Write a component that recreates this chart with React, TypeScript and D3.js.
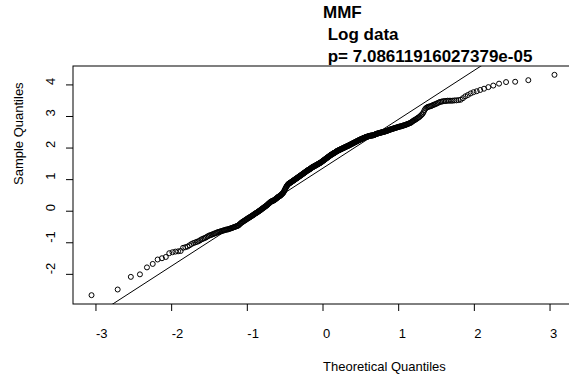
import React from "react";
import * as d3 from "d3";

const titleLines = ["MMF", " Log data", " p= 7.08611916027379e-05"];
const xLabel = "Theoretical Quantiles";
const yLabel = "Sample Quantiles";
const xTicks = [-3, -2, -1, 0, 1, 2, 3];
const yTicks = [-2, -1, 0, 1, 2, 3, 4];

// sorted sample values
const sample = [
  -2.66, -2.48, -2.08, -2.00, -1.78, -1.67, -1.53, -1.49, -1.45, -1.33,
  -1.30, -1.28, -1.27, -1.26, -1.16, -1.14, -1.12, -1.08, -1.04, -1.01,
  -0.99, -0.97, -0.95, -0.92, -0.89, -0.87, -0.85, -0.83, -0.80, -0.78,
  -0.76, -0.75, -0.73, -0.72, -0.70, -0.69, -0.67, -0.66, -0.65, -0.64,
  -0.63, -0.62, -0.61, -0.60, -0.59, -0.58, -0.58, -0.57, -0.56, -0.55,
  -0.54, -0.53, -0.52, -0.51, -0.50, -0.49, -0.48, -0.47, -0.46, -0.45,
  -0.42, -0.40, -0.38, -0.36, -0.34, -0.33, -0.31, -0.30, -0.28, -0.27,
  -0.25, -0.24, -0.22, -0.21, -0.20, -0.18, -0.17, -0.16, -0.14, -0.13,
  -0.12, -0.10, -0.09, -0.07, -0.06, -0.05, -0.04, -0.02, -0.01, 0.00,
  0.02, 0.03, 0.04, 0.06, 0.07, 0.09, 0.10, 0.11, 0.13, 0.14,
  0.15, 0.17, 0.18, 0.19, 0.21, 0.23, 0.24, 0.26, 0.27, 0.29,
  0.30, 0.31, 0.32, 0.32, 0.33, 0.34, 0.35, 0.36, 0.37, 0.38,
  0.40, 0.41, 0.42, 0.44, 0.45, 0.46, 0.47, 0.48, 0.49, 0.50,
  0.52, 0.53, 0.55, 0.56, 0.58, 0.60, 0.63, 0.66, 0.69, 0.72,
  0.75, 0.78, 0.80, 0.82, 0.84, 0.86, 0.87, 0.88, 0.89, 0.90,
  0.91, 0.92, 0.93, 0.94, 0.95, 0.96, 0.97, 0.98, 0.99, 1.00,
  1.01, 1.02, 1.03, 1.04, 1.05, 1.06, 1.07, 1.08, 1.09, 1.10,
  1.11, 1.12, 1.13, 1.14, 1.15, 1.16, 1.17, 1.18, 1.19, 1.20,
  1.21, 1.22, 1.23, 1.24, 1.25, 1.26, 1.27, 1.28, 1.29, 1.30,
  1.31, 1.31, 1.32, 1.33, 1.34, 1.35, 1.36, 1.37, 1.38, 1.39,
  1.40, 1.40, 1.41, 1.42, 1.43, 1.43, 1.44, 1.45, 1.46, 1.46,
  1.47, 1.48, 1.49, 1.49, 1.50, 1.51, 1.52, 1.53, 1.53, 1.54,
  1.55, 1.56, 1.57, 1.58, 1.59, 1.60, 1.61, 1.62, 1.63, 1.64,
  1.65, 1.66, 1.67, 1.68, 1.69, 1.70, 1.71, 1.72, 1.73, 1.74,
  1.75, 1.76, 1.77, 1.78, 1.79, 1.80, 1.80, 1.81, 1.82, 1.83,
  1.84, 1.85, 1.85, 1.86, 1.87, 1.88, 1.89, 1.90, 1.91, 1.91,
  1.92, 1.93, 1.93, 1.94, 1.95, 1.95, 1.96, 1.97, 1.97, 1.98,
  1.99, 1.99, 2.00, 2.01, 2.01, 2.02, 2.03, 2.03, 2.04, 2.05,
  2.05, 2.06, 2.07, 2.07, 2.08, 2.09, 2.09, 2.10, 2.11, 2.12,
  2.12, 2.13, 2.14, 2.15, 2.15, 2.16, 2.17, 2.18, 2.18, 2.19,
  2.20, 2.21, 2.21, 2.22, 2.23, 2.24, 2.24, 2.25, 2.26, 2.27,
  2.27, 2.28, 2.29, 2.29, 2.30, 2.31, 2.31, 2.32, 2.33, 2.33,
  2.34, 2.35, 2.35, 2.36, 2.36, 2.37, 2.37, 2.38, 2.38, 2.39,
  2.39, 2.39, 2.40, 2.40, 2.40, 2.40, 2.41, 2.41, 2.42, 2.43,
  2.44, 2.45, 2.45, 2.46, 2.46, 2.47, 2.47, 2.48, 2.48, 2.49,
  2.49, 2.50, 2.50, 2.51, 2.51, 2.52, 2.52, 2.53, 2.53, 2.54,
  2.55, 2.55, 2.56, 2.57, 2.58, 2.58, 2.59, 2.60, 2.60, 2.61,
  2.62, 2.62, 2.63, 2.64, 2.64, 2.65, 2.66, 2.66, 2.67, 2.68,
  2.68, 2.69, 2.69, 2.70, 2.71, 2.72, 2.72, 2.73, 2.74, 2.75,
  2.76, 2.77, 2.78, 2.79, 2.80, 2.82, 2.84, 2.86, 2.88, 2.89,
  2.91, 2.93, 2.95, 2.97, 2.99, 3.02, 3.05, 3.08, 3.13, 3.20,
  3.25, 3.28, 3.30, 3.31, 3.32, 3.33, 3.35, 3.37, 3.38, 3.40,
  3.42, 3.44, 3.46, 3.47, 3.48, 3.49, 3.49, 3.50, 3.50, 3.50,
  3.50, 3.51, 3.51, 3.52, 3.53, 3.58, 3.64, 3.68, 3.73, 3.77,
  3.80, 3.84, 3.88, 3.93, 3.98, 4.04, 4.09, 4.10, 4.15, 4.32,
];

// inverse standard normal CDF (Acklam)
function qnorm(p: number): number {
  const a = [-3.969683028665376e1, 2.209460984245205e2, -2.759285104469687e2, 1.38357751867269e2, -3.066479806614716e1, 2.506628277459239];
  const b = [-5.447609879822406e1, 1.615858368580409e2, -1.556989798598866e2, 6.680131188771972e1, -1.328068155288572e1];
  const c = [-7.784894002430293e-3, -3.223964580411365e-1, -2.400758277161838, -2.549732539343734, 4.374664141464968, 2.938163982698783];
  const d = [7.784695709041462e-3, 3.224671290700398e-1, 2.445134137142996, 3.754408661907416];
  const pl = 0.02425;
  if (p < pl) {
    const q = Math.sqrt(-2 * Math.log(p));
    return (((((c[0] * q + c[1]) * q + c[2]) * q + c[3]) * q + c[4]) * q + c[5]) / ((((d[0] * q + d[1]) * q + d[2]) * q + d[3]) * q + 1);
  }
  if (p > 1 - pl) {
    const q = Math.sqrt(-2 * Math.log(1 - p));
    return -(((((c[0] * q + c[1]) * q + c[2]) * q + c[3]) * q + c[4]) * q + c[5]) / ((((d[0] * q + d[1]) * q + d[2]) * q + d[3]) * q + 1);
  }
  const q = p - 0.5;
  const r = q * q;
  return ((((((a[0] * r + a[1]) * r + a[2]) * r + a[3]) * r + a[4]) * r + a[5]) * q) / (((((b[0] * r + b[1]) * r + b[2]) * r + b[3]) * r + b[4]) * r + 1);
}

const W = 569;
const H = 378;
const plot = { left: 73, right: 573, top: 66, bottom: 304 };
const FONT = "'Liberation Sans', Arial, Helvetica, sans-serif";

export default function App() {
  const n = sample.length;
  const theo = sample.map((_, i) => qnorm((i + 1 - 0.5) / n));
  const pts = sample.map((y, i) => ({ x: theo[i], y }));

  const [x0, x1] = d3.extent(theo) as [number, number];
  const [y0, y1] = d3.extent(sample) as [number, number];
  const xe = (x1 - x0) * 0.04;
  const ye = (y1 - y0) * 0.04;
  const xs = d3.scaleLinear().domain([x0 - xe, x1 + xe]).range([plot.left, plot.right]);
  const ys = d3.scaleLinear().domain([y0 - ye, y1 + ye]).range([plot.bottom, plot.top]);

  // qqline through the quartiles
  const q1 = d3.quantile(sample, 0.25) as number;
  const q3 = d3.quantile(sample, 0.75) as number;
  const t1 = qnorm(0.25);
  const t3 = qnorm(0.75);
  const slope = (q3 - q1) / (t3 - t1);
  const intercept = q1 - slope * t1;
  const dom = xs.domain();
  const lineGen = d3.line<number>().x((v) => xs(v)).y((v) => ys(intercept + slope * v));
  const linePath = lineGen([dom[0] - 5, dom[1] + 5]) as string;

  const cx = (plot.left + plot.right) / 2;
  const cy = (plot.top + plot.bottom) / 2;

  return (
    <svg width={W} height={H} style={{ position: "absolute", left: 0, top: 0, background: "#fff" }} fontFamily={FONT}>
      <defs>
        <clipPath id="plotclip">
          <rect x={plot.left} y={plot.top} width={plot.right - plot.left} height={plot.bottom - plot.top} />
        </clipPath>
      </defs>
      <rect x={0} y={0} width={W} height={H} fill="#fff" />

      {titleLines.map((t, i) => (
        <text key={i} x={cx} y={18 + i * 22} fontSize={17} fontWeight="bold" fill="#000" style={{ whiteSpace: "pre" }}>
          {t}
        </text>
      ))}

      <g clipPath="url(#plotclip)">
        <path d={linePath} stroke="#000" strokeWidth={1} fill="none" />
        {pts.map((p, i) => (
          <circle key={i} cx={xs(p.x)} cy={ys(p.y)} r={2.5} fill="none" stroke="#000" strokeWidth={1} />
        ))}
      </g>

      <rect x={plot.left} y={plot.top} width={plot.right - plot.left} height={plot.bottom - plot.top} fill="none" stroke="#000" strokeWidth={1} />

      {xTicks.map((t) => (
        <g key={"x" + t}>
          <line x1={xs(t)} x2={xs(t)} y1={plot.bottom} y2={plot.bottom + 7} stroke="#000" />
          <text x={xs(t)} y={338} fontSize={13} fill="#000">{t}</text>
        </g>
      ))}
      {yTicks.map((t) => (
        <g key={"y" + t}>
          <line x1={plot.left - 7} x2={plot.left} y1={ys(t)} y2={ys(t)} stroke="#000" />
          <text transform={`translate(55,${ys(t)}) rotate(-90)`} fontSize={13} fill="#000">{t}</text>
        </g>
      ))}

      <text x={cx} y={371} fontSize={13} fill="#000">{xLabel}</text>
      <text transform={`translate(23,${cy}) rotate(-90)`} fontSize={13} fill="#000">{yLabel}</text>
    </svg>
  );
}
